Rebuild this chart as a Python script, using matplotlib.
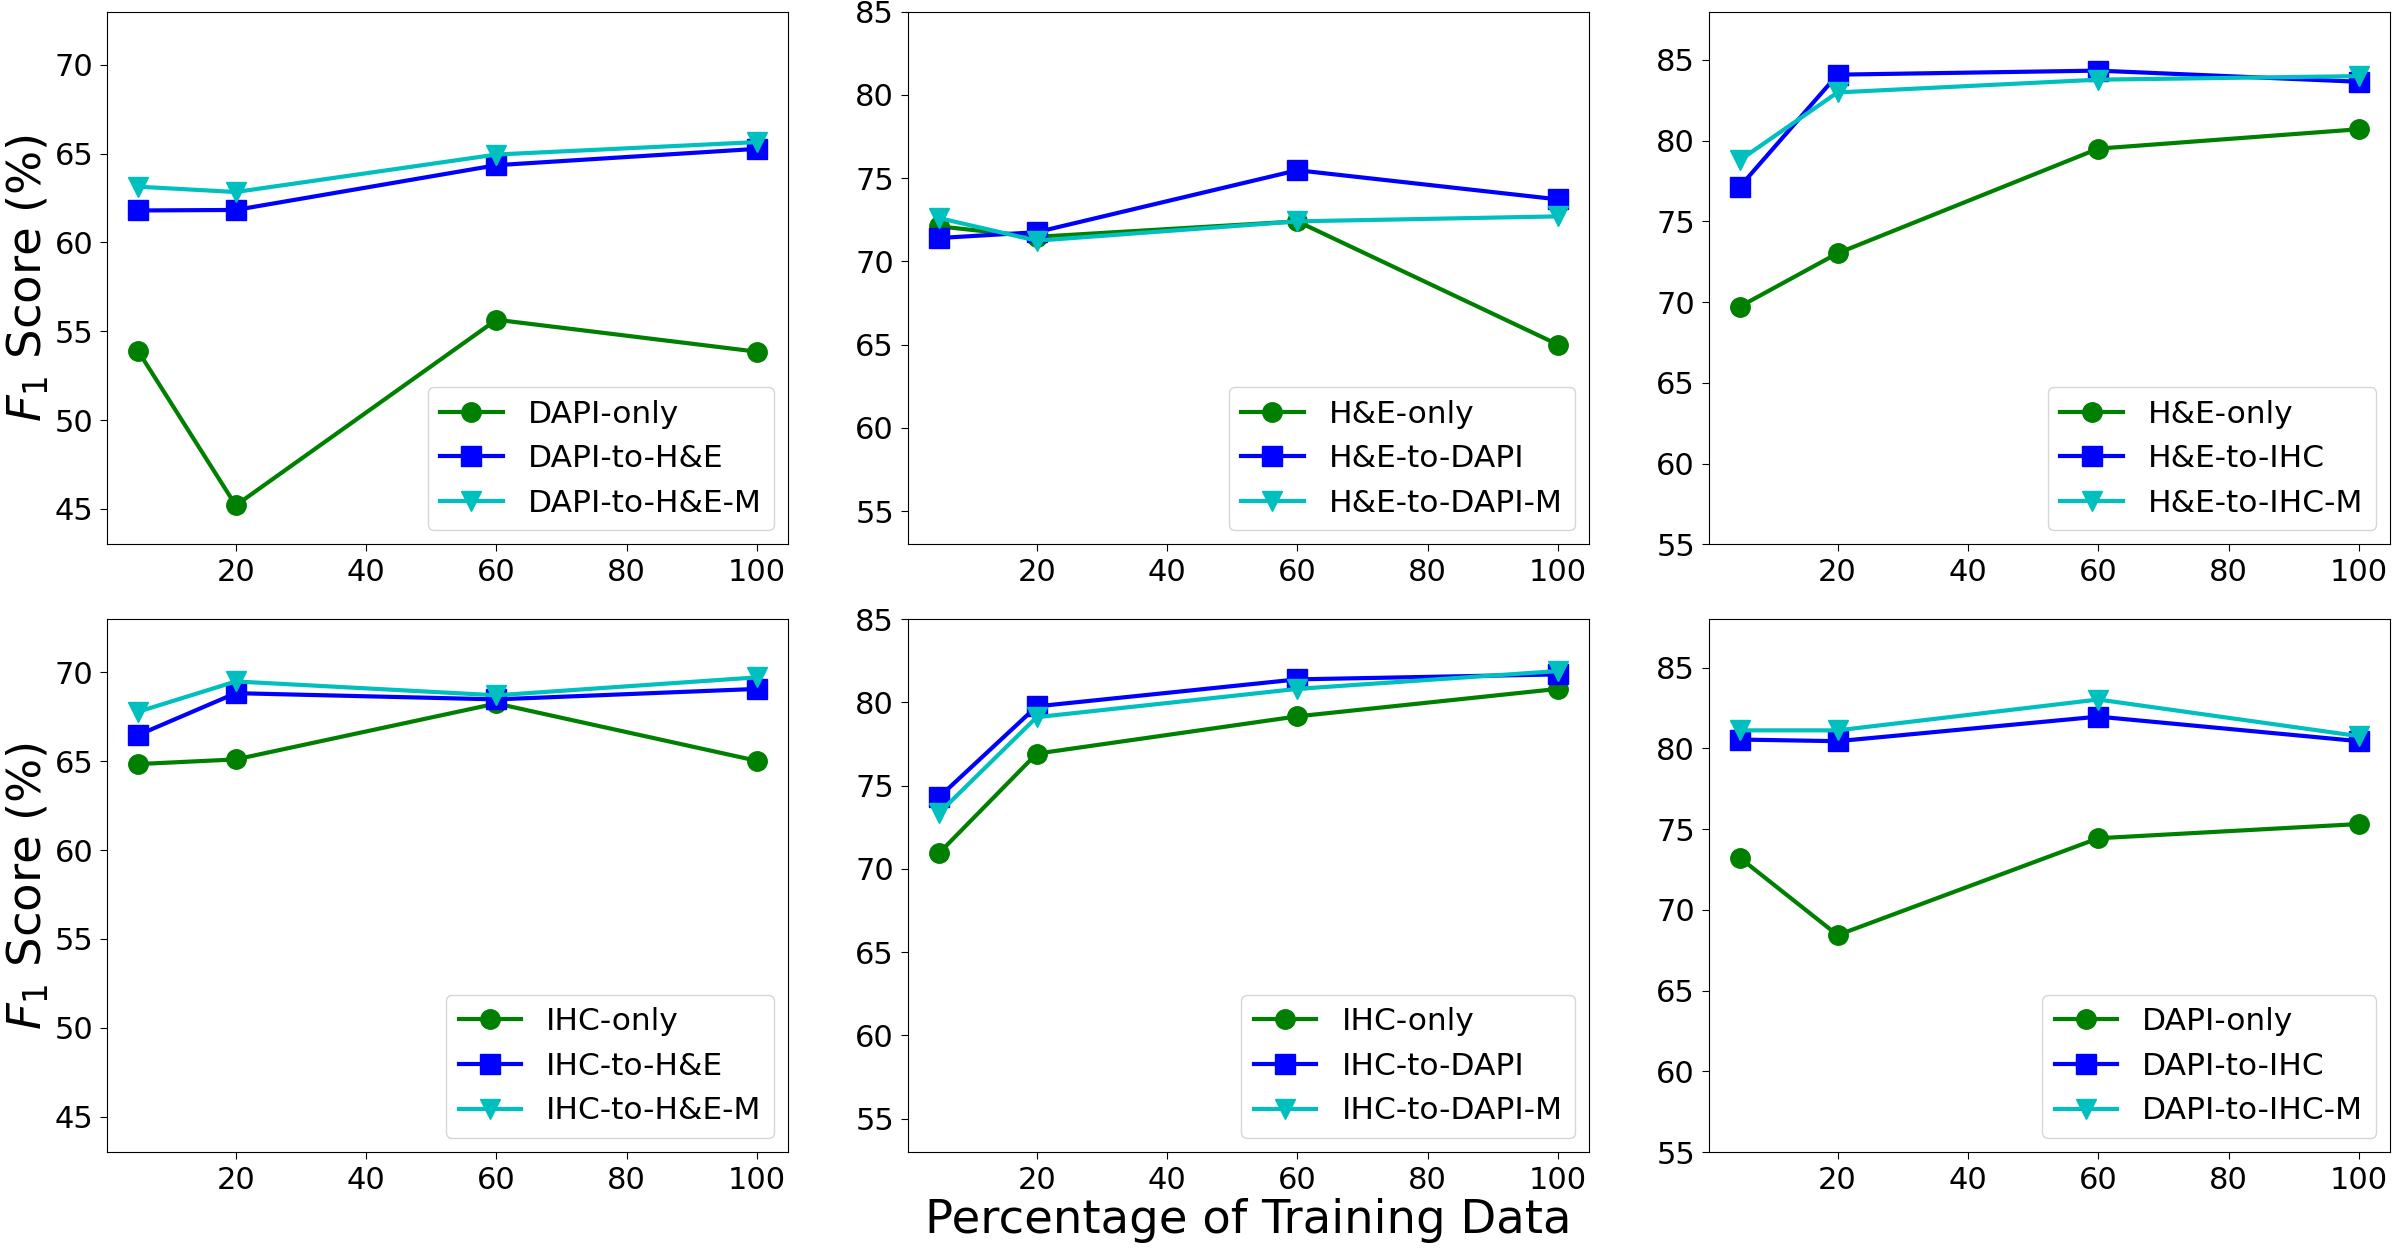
import matplotlib
matplotlib.use("Agg")
import matplotlib.pyplot as plt

x_pct = [5, 20, 60, 100]

# Top row
dapi_only_a = [53.9, 45.2, 55.65, 53.85]
dapi_to_he = [61.8, 61.83, 64.35, 65.27]
dapi_to_he_m = [63.14, 62.84, 64.95, 65.65]

he_only_a = [72.1, 71.47, 72.4, 65.0]
he_to_dapi = [71.4, 71.75, 75.47, 73.72]
he_to_dapi_m = [72.6, 71.24, 72.4, 72.7]

he_only_b = [69.73, 73.03, 79.51, 80.71]
he_to_ihc = [77.15, 84.09, 84.34, 83.65]
he_to_ihc_m = [78.8, 82.99, 83.78, 84.0]

# Bottom row
ihc_only_a = [64.84, 65.1, 68.25, 65.02]
ihc_to_he = [66.47, 68.83, 68.48, 69.07]
ihc_to_he_m = [67.78, 69.49, 68.71, 69.72]

ihc_only_b = [70.94, 76.92, 79.16, 80.81]
ihc_to_dapi = [74.3, 79.76, 81.38, 81.68]
ihc_to_dapi_m = [73.35, 79.11, 80.81, 81.88]

dapi_only_b = [73.22, 68.43, 74.43, 75.31]
dapi_to_ihc = [80.54, 80.44, 81.96, 80.44]
dapi_to_ihc_m = [81.11, 81.11, 83.02, 80.75]

panels = [
    [(dapi_only_a, "DAPI-only"), (dapi_to_he, "DAPI-to-H&E"), (dapi_to_he_m, "DAPI-to-H&E-M")],
    [(he_only_a, "H&E-only"), (he_to_dapi, "H&E-to-DAPI"), (he_to_dapi_m, "H&E-to-DAPI-M")],
    [(he_only_b, "H&E-only"), (he_to_ihc, "H&E-to-IHC"), (he_to_ihc_m, "H&E-to-IHC-M")],
    [(ihc_only_a, "IHC-only"), (ihc_to_he, "IHC-to-H&E"), (ihc_to_he_m, "IHC-to-H&E-M")],
    [(ihc_only_b, "IHC-only"), (ihc_to_dapi, "IHC-to-DAPI"), (ihc_to_dapi_m, "IHC-to-DAPI-M")],
    [(dapi_only_b, "DAPI-only"), (dapi_to_ihc, "DAPI-to-IHC"), (dapi_to_ihc_m, "DAPI-to-IHC-M")],
]
ylims = [(43, 73), (53, 85), (55, 88), (43, 73), (53, 85), (55, 88)]
styles = [("g", "o"), ("b", "s"), ("c", "v")]

plt.rcParams["font.family"] = ["DejaVu Sans"]
fig, axes = plt.subplots(2, 3, figsize=(24, 12.51), dpi=100)
fig.subplots_adjust(left=0.0446, right=0.9958, top=0.9908, bottom=0.0791,
                    hspace=0.14, wspace=0.176)

for i, ax in enumerate(axes.flat):
    for (vals, lab), (col, mk) in zip(panels[i], styles):
        ax.plot(x_pct, vals, color=col, marker=mk, lw=3, ms=14, label=lab)
    ax.set_ylim(*ylims[i])
    ax.set_xticks([20, 40, 60, 80, 100])
    ax.tick_params(labelsize=22, length=5, pad=5)
    ax.legend(loc="lower right", fontsize=22.5, borderaxespad=0.45)
    if i % 3 == 0:
        ax.set_ylabel("$F_1$ Score (%)", fontsize=33.5, labelpad=2)

axes[1, 1].set_xlabel("Percentage of Training Data", fontsize=33.5, labelpad=2)

fig.savefig("out.png", dpi=100)
